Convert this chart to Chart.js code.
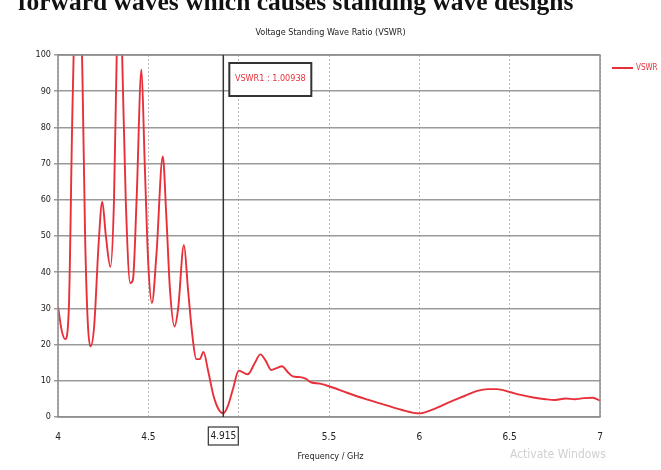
<!DOCTYPE html>
<html>
<head>
<meta charset="utf-8">
<script src="https://cdn.jsdelivr.net/npm/chart.js@4/dist/chart.umd.min.js"></script>
<style>
  body { margin: 0; background: #fff; }
  #wrap { position: relative; width: 661px; height: 470px; overflow: hidden; }
  #chart { position: absolute; left: 0; top: 0; }
  .txt { position: absolute; white-space: nowrap; }
  #head { left: 18px; top: -13px; font: bold 25.5px "Liberation Serif", serif; color: #111; }
  #title { left: 0; width: 661px; top: 27px; text-align: center; font: 9px "DejaVu Sans Condensed", "Liberation Sans Narrow", sans-serif; color: #222; }
  #xtitle { left: 0; width: 661px; top: 451px; text-align: center; font: 9px "DejaVu Sans Condensed", "Liberation Sans Narrow", sans-serif; color: #222; }
  #legend { left: 636px; top: 63px; font: 8px "DejaVu Sans Condensed", sans-serif; color: #e8303a; }
  #legline { position: absolute; left: 612px; top: 67px; width: 21px; height: 2px; background: #e8303a; }
  #wm { left: 510px; top: 447px; font: 12px "DejaVu Sans Condensed", sans-serif; color: #d0d0d0; }
</style>
</head>
<body>
<div id="wrap">
  <canvas id="chart" width="661" height="470"></canvas>
  <div class="txt" id="head">forward waves which causes standing wave designs</div>
  <div class="txt" id="title">Voltage Standing Wave Ratio (VSWR)</div>
  <div class="txt" id="xtitle">Frequency / GHz</div>
  <div id="legline"></div>
  <div class="txt" id="legend">VSWR</div>
  <div class="txt" id="wm">Activate Windows</div>
</div>
<script>
// frequency (GHz) and VSWR
const freq = [4.00, 4.02, 4.04, 4.06, 4.08, 4.11, 4.135, 4.15, 4.165, 4.18,
  4.20, 4.225, 4.245, 4.265, 4.29, 4.31, 4.325, 4.34, 4.355, 4.375,
  4.40, 4.415, 4.435, 4.462, 4.48, 4.50, 4.52, 4.545, 4.58, 4.60,
  4.62, 4.645, 4.665, 4.697, 4.72, 4.745, 4.765, 4.785, 4.805, 4.83,
  4.86, 4.885, 4.915, 4.94, 4.97, 5.00, 5.05, 5.09, 5.12, 5.15,
  5.18, 5.21, 5.24, 5.27, 5.30, 5.34, 5.37, 5.40, 5.45, 5.50,
  5.60, 5.70, 5.80, 5.90, 6.00, 6.08, 6.17, 6.25, 6.32, 6.38,
  6.43, 6.50, 6.56, 6.63, 6.70, 6.75, 6.81, 6.86, 6.91, 6.96, 7.00];
const vswr = [30.5, 24, 21.5, 30, 85, 135, 95, 50, 26, 19.5,
  25, 48, 59.5, 50, 41.5, 60, 100, 125, 100, 60,
  37, 38, 60, 96, 70, 42, 31.5, 45, 72, 55,
  35, 25, 30, 47.5, 35, 22, 16, 16, 18, 13,
  6, 2.5, 1.009, 3, 8, 12.8, 11.8, 15, 17.3, 15.5,
  13, 13.5, 14, 12.5, 11.2, 11, 10.6, 9.6, 9.2, 8.5,
  6.7, 5, 3.5, 2, 1, 2.2, 4.2, 5.8, 7.2, 7.7,
  7.7, 6.9, 6.1, 5.4, 4.9, 4.7, 5.1, 4.9, 5.2, 5.3, 4.5];

const xTicks = [4, 4.5, 5, 5.5, 6, 6.5, 7];
const xTickLabels = ['4', '4.5', '', '5.5', '6', '6.5', '7'];
const markerFreq = 4.915;
const markerLabel = 'VSWR1 : 1.00938';

const axisFont = { family: '"DejaVu Sans Condensed", "Liberation Sans Narrow", sans-serif', size: 10 };

const markerPlugin = {
  id: 'marker',
  afterDatasetsDraw(chart) {
    const { ctx, chartArea: a, scales: { x } } = chart;
    const px = x.getPixelForValue(markerFreq);
    ctx.save();
    // frame
    ctx.strokeStyle = '#8c8c8c';
    ctx.lineWidth = 1.5;
    ctx.strokeRect(a.left, a.top, a.right - a.left, a.bottom - a.top);
    // marker line
    ctx.strokeStyle = '#333';
    ctx.lineWidth = 1.5;
    ctx.beginPath();
    ctx.moveTo(px, a.top);
    ctx.lineTo(px, a.bottom);
    ctx.stroke();
    // value box
    ctx.fillStyle = '#fff';
    ctx.fillRect(px + 6, 63, 82, 33);
    ctx.strokeStyle = '#333';
    ctx.lineWidth = 2;
    ctx.strokeRect(px + 6, 63, 82, 33);
    ctx.fillStyle = '#e8303a';
    ctx.font = '9px ' + axisFont.family;
    ctx.textAlign = 'center';
    ctx.textBaseline = 'middle';
    ctx.fillText(markerLabel, px + 47, 79);
    // frequency box under the axis
    ctx.fillStyle = '#fff';
    ctx.fillRect(px - 15, 427, 30, 18);
    ctx.lineWidth = 1.2;
    ctx.strokeRect(px - 15, 427, 30, 18);
    ctx.fillStyle = '#222';
    ctx.font = '10px ' + axisFont.family;
    ctx.fillText(String(markerFreq), px, 436);
    ctx.restore();
  }
};

const ctx = document.getElementById('chart').getContext('2d');
new Chart(ctx, {
  type: 'line',
  data: {
    datasets: [{
      label: 'VSWR',
      data: freq.map((f, i) => ({ x: f, y: vswr[i] })),
      borderColor: '#e8303a',
      borderWidth: 1.9,
      pointRadius: 0,
      cubicInterpolationMode: 'monotone'
    }]
  },
  options: {
    responsive: false,
    animation: false,
    layout: { padding: { left: 0, top: 55, right: 61, bottom: 0 } },
    plugins: {
      legend: { display: false },
      title: { display: false },
      tooltip: { enabled: false }
    },
    scales: {
      x: {
        type: 'linear',
        min: 4,
        max: 7,
        afterBuildTicks: scale => { scale.ticks = xTicks.map(v => ({ value: v })); },
        afterFit: scale => { scale.height = 53; },
        ticks: {
          font: axisFont,
          color: '#222',
          padding: 14,
          maxRotation: 0,
          callback: (v) => xTickLabels[xTicks.indexOf(v)]
        },
        grid: { color: '#b8b8b8', lineWidth: 1, tickLength: 0 },
        border: { display: false, dash: [2, 2] }
      },
      y: {
        min: 0,
        max: 100,
        afterFit: scale => { scale.width = 58; },
        ticks: { stepSize: 10, font: { family: axisFont.family, size: 9 }, color: '#222', padding: 3 },
        grid: { color: '#9a9a9a', lineWidth: 1.5, tickLength: 4 },
        border: { display: false }
      }
    }
  },
  plugins: [markerPlugin]
});
</script>
</body>
</html>
